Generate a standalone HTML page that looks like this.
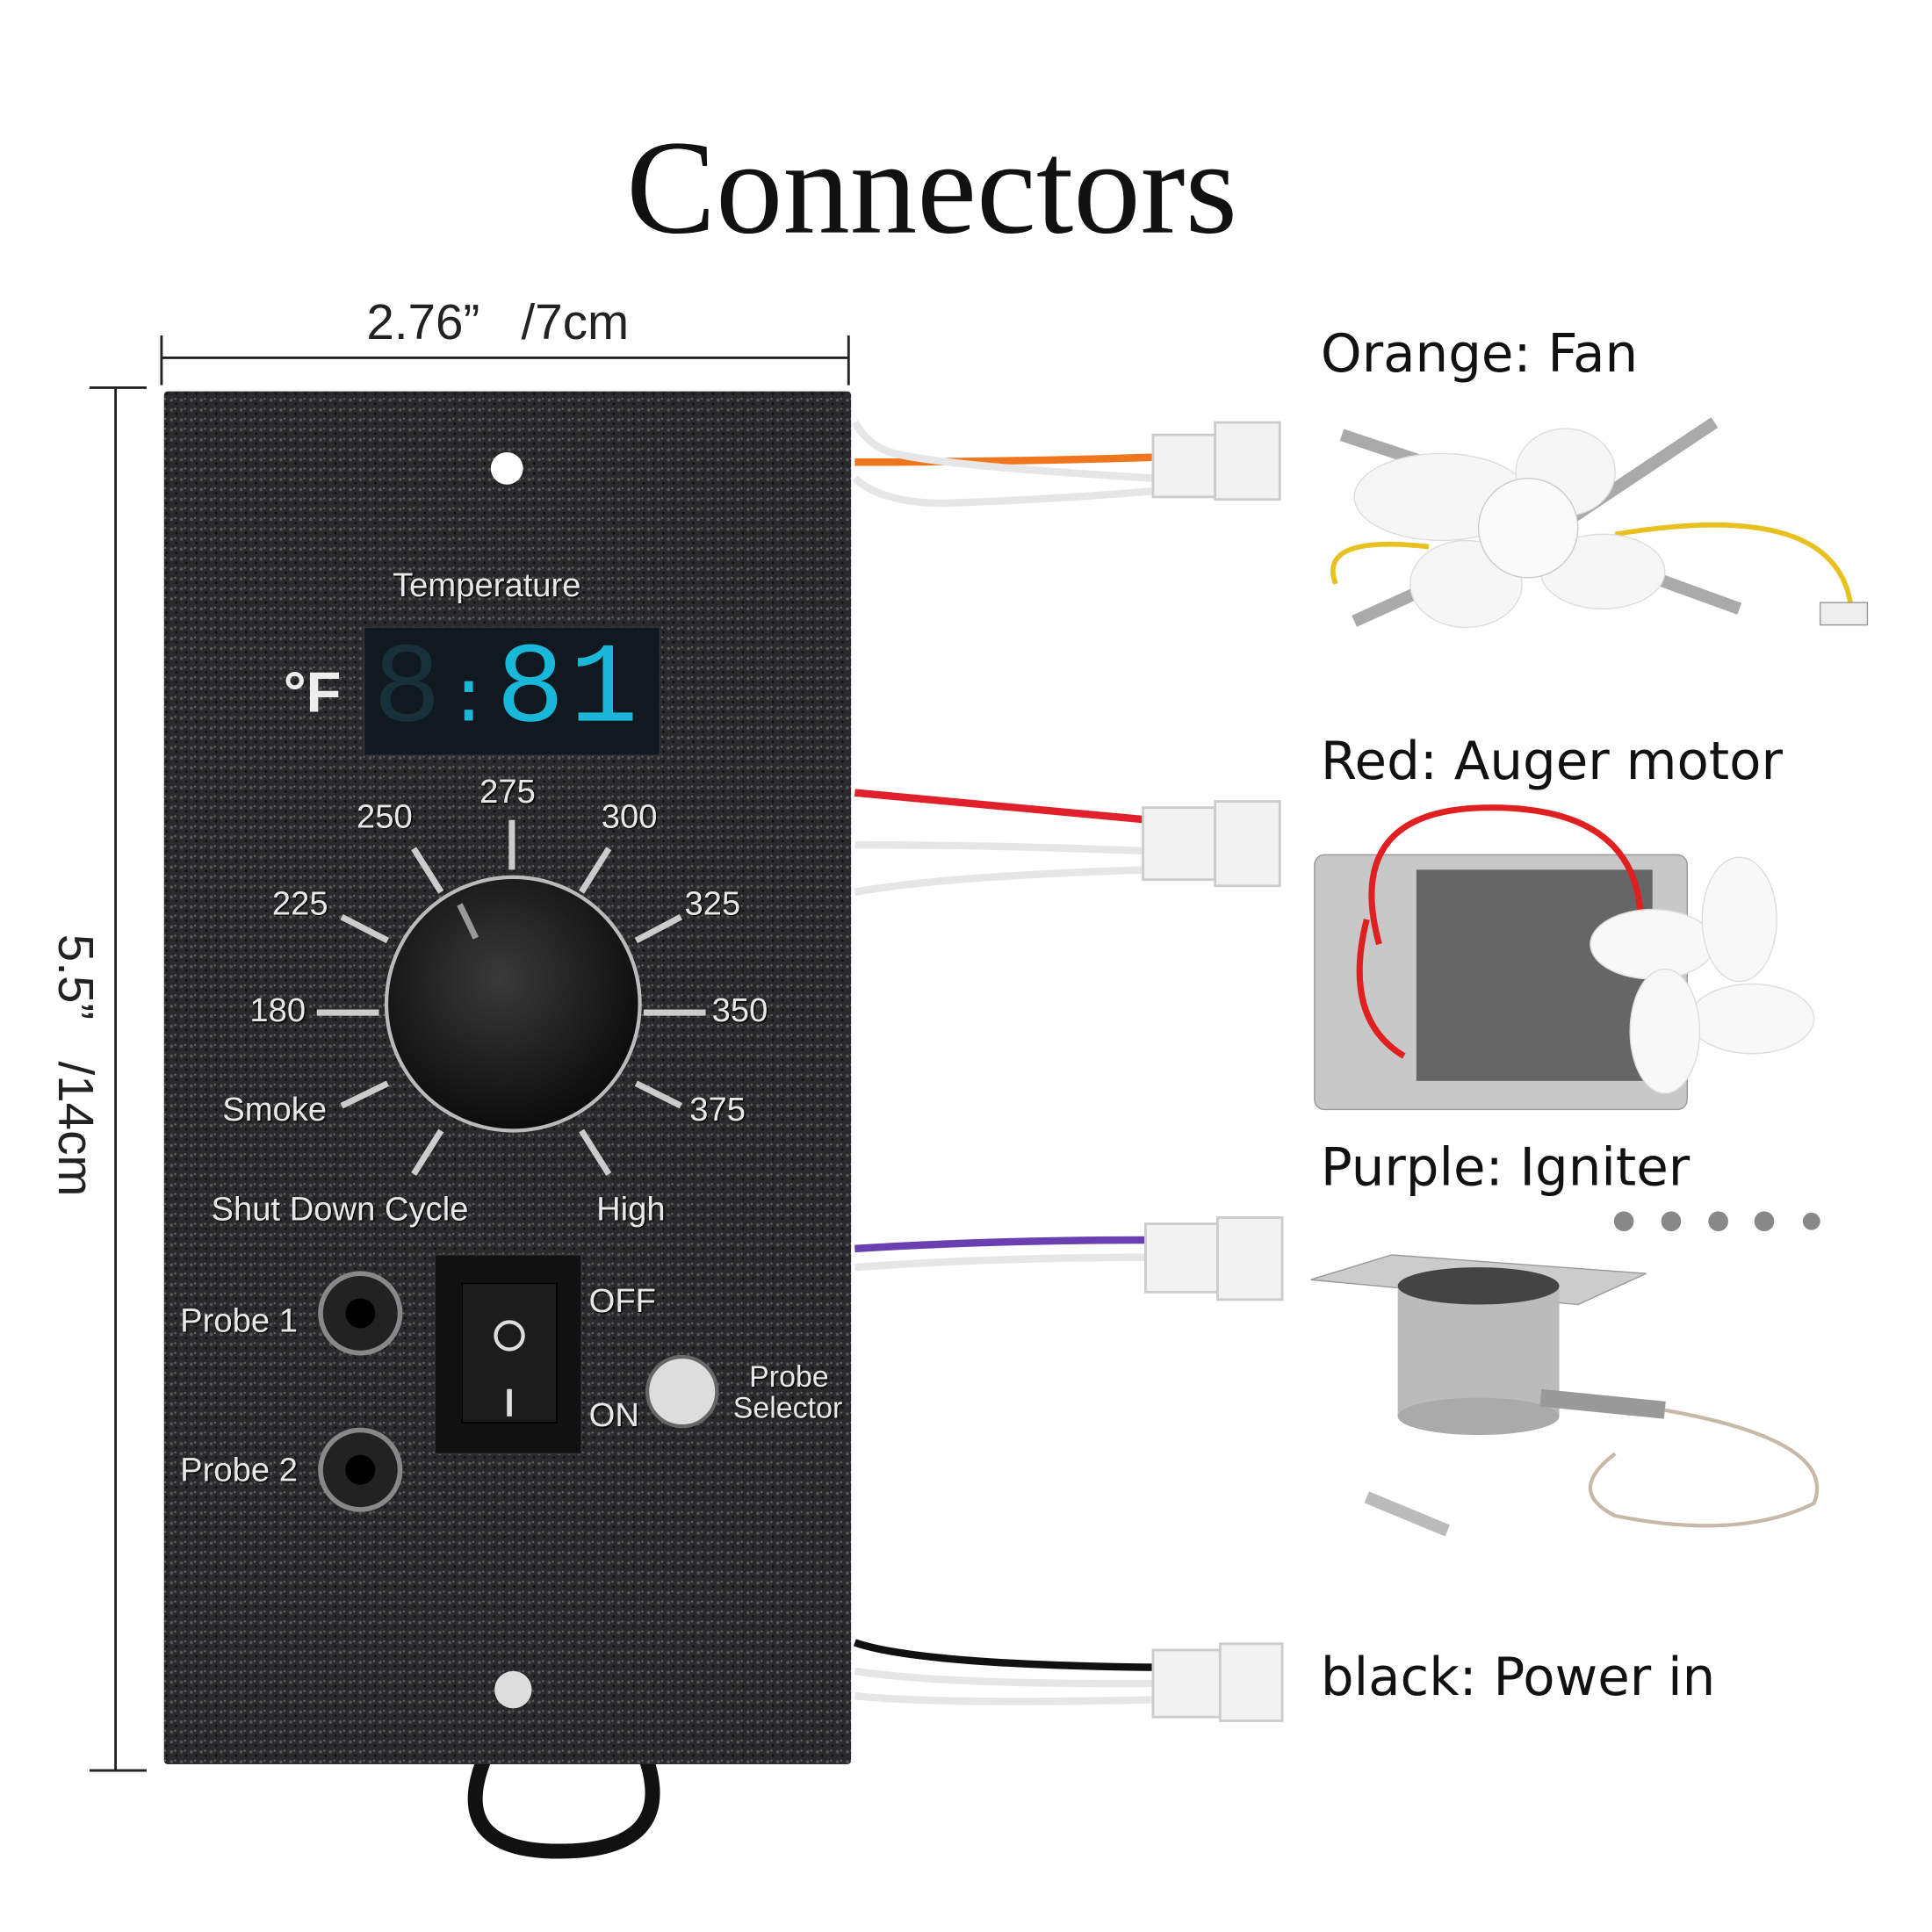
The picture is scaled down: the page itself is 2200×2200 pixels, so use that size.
<!DOCTYPE html>
<html><head><meta charset="utf-8"><style>
html,body{margin:0;padding:0;background:#fff;}
#wrap{width:1555px;height:1555px;position:relative;transform:scale(1.41479);transform-origin:0 0;overflow:hidden;font-family:"Liberation Sans",sans-serif;}
.a{position:absolute;}
.lbl{position:absolute;color:#e8e8e8;font-size:27px;font-family:"Liberation Sans",sans-serif;text-shadow:1px 1px 1px #000;}
.rt{position:absolute;font-family:"DejaVu Sans",sans-serif;font-size:42px;color:#111;}
</style></head><body><div id="wrap">
<div class="a" style="left:0;top:90px;width:1500px;text-align:center;font-family:'Liberation Serif',serif;font-size:108px;color:#111;">Connectors</div>

<svg class="a" style="left:0;top:0" width="1555" height="1555">
<defs>
<pattern id="tx" width="8" height="8" patternUnits="userSpaceOnUse">
<rect width="8" height="8" fill="#2a2a2c"/><circle cx="2" cy="2" r="1.3" fill="#555"/><circle cx="6" cy="5" r="1" fill="#111"/><circle cx="5" cy="1" r="0.8" fill="#666"/>
</pattern>
<radialGradient id="kn" cx="0.45" cy="0.4" r="0.6"><stop offset="0" stop-color="#3a3a3a"/><stop offset="1" stop-color="#0c0c0c"/></radialGradient>
</defs>
<line x1="130" y1="288" x2="683" y2="288" stroke="#222" stroke-width="2"/>
<line x1="130" y1="270" x2="130" y2="310" stroke="#222" stroke-width="2"/>
<line x1="683" y1="270" x2="683" y2="310" stroke="#222" stroke-width="2"/>
<line x1="93" y1="312" x2="93" y2="1425" stroke="#222" stroke-width="2"/>
<line x1="72" y1="312" x2="118" y2="312" stroke="#222" stroke-width="2"/>
<line x1="72" y1="1425" x2="118" y2="1425" stroke="#222" stroke-width="2"/>
<path d="M390 1415 Q360 1490 450 1490 Q545 1490 520 1415" fill="none" stroke="#111" stroke-width="12"/>
<rect x="132" y="315" width="553" height="1105" fill="url(#tx)" rx="3"/>
<circle cx="408" cy="377" r="13" fill="#fff"/>
<circle cx="413" cy="1360" r="15" fill="#ddd"/>
<rect x="293" y="505" width="238" height="103" fill="#101820" stroke="#333"/>
<g stroke="#ccc" stroke-width="5">
<line x1="412" y1="660" x2="412" y2="700"/>
<line x1="333" y1="683" x2="355" y2="718"/>
<line x1="490" y1="683" x2="468" y2="718"/>
<line x1="275" y1="738" x2="312" y2="757"/>
<line x1="548" y1="738" x2="512" y2="757"/>
<line x1="255" y1="815" x2="305" y2="815"/>
<line x1="518" y1="815" x2="568" y2="815"/>
<line x1="275" y1="890" x2="312" y2="872"/>
<line x1="548" y1="890" x2="512" y2="872"/>
<line x1="333" y1="945" x2="355" y2="910"/>
<line x1="490" y1="945" x2="468" y2="910"/>
</g>
<circle cx="413" cy="808" r="102" fill="url(#kn)" stroke="#bbb" stroke-width="3"/>
<line x1="383" y1="755" x2="370" y2="728" stroke="#999" stroke-width="5"/>
<circle cx="290" cy="1057" r="32" fill="#222" stroke="#888" stroke-width="4"/><circle cx="290" cy="1057" r="12" fill="#000"/>
<circle cx="290" cy="1183" r="32" fill="#222" stroke="#888" stroke-width="4"/><circle cx="290" cy="1183" r="12" fill="#000"/>
<rect x="350" y="1010" width="118" height="160" fill="#111" stroke="#333"/>
<rect x="372" y="1033" width="76" height="112" fill="#1c1c1c" stroke="#000"/>
<circle cx="410" cy="1075" r="11" fill="none" stroke="#ddd" stroke-width="3"/>
<line x1="410" y1="1118" x2="410" y2="1140" stroke="#ddd" stroke-width="4"/>
<circle cx="549" cy="1120" r="28" fill="#ddd" stroke="#666" stroke-width="3"/>
<g fill="none" stroke-width="6">
<path d="M688 372 C720 372 800 372 930 368" stroke="#f0761e"/>
<path d="M688 340 Q700 360 720 365 Q760 375 930 385" stroke="#e6e6e6"/>
<path d="M688 385 Q710 405 760 405 Q850 402 930 395" stroke="#e6e6e6"/>
<path d="M688 638 Q800 648 925 660" stroke="#e0202a"/>
<path d="M688 680 Q800 680 925 685" stroke="#e6e6e6"/>
<path d="M688 718 Q760 705 925 700" stroke="#e6e6e6"/>
<path d="M688 1005 Q800 998 925 998" stroke="#6a3fb0"/>
<path d="M688 1020 Q800 1012 925 1012" stroke="#e6e6e6"/>
<path d="M688 1322 Q740 1340 930 1342" stroke="#111"/>
<path d="M688 1345 Q760 1356 930 1355" stroke="#e6e6e6"/>
<path d="M688 1365 Q760 1372 930 1368" stroke="#e6e6e6"/>
</g>
<g fill="#f2f2f2" stroke="#ccc" stroke-width="2">
<rect x="928" y="350" width="50" height="50"/><rect x="978" y="340" width="52" height="62"/>
<rect x="920" y="650" width="58" height="58"/><rect x="978" y="645" width="52" height="68"/>
<rect x="922" y="985" width="58" height="55"/><rect x="980" y="980" width="52" height="66"/>
<rect x="928" y="1328" width="54" height="54"/><rect x="982" y="1323" width="50" height="62"/>
</g>
<g>
<path d="M1080 350 L1230 400 M1380 340 L1260 420 M1090 500 L1200 450 M1400 490 L1290 450" stroke="#aaa" stroke-width="10"/>
<path d="M1075 470 Q1060 430 1150 440 M1300 430 Q1480 400 1490 490" stroke="#e8c020" stroke-width="4" fill="none"/>
<ellipse cx="1160" cy="400" rx="70" ry="35" fill="#f6f6f6" stroke="#ddd"/>
<ellipse cx="1260" cy="380" rx="40" ry="35" fill="#f6f6f6" stroke="#ddd"/>
<ellipse cx="1290" cy="460" rx="50" ry="30" fill="#f6f6f6" stroke="#ddd"/>
<ellipse cx="1180" cy="470" rx="45" ry="35" fill="#f6f6f6" stroke="#ddd"/>
<circle cx="1230" cy="425" r="40" fill="#fafafa" stroke="#ccc"/>
<rect x="1465" y="485" width="38" height="18" fill="#eee" stroke="#999"/>
</g>
<g>
<rect x="1058" y="688" width="300" height="205" fill="#c8c8c8" stroke="#999" rx="8"/>
<rect x="1140" y="700" width="190" height="170" fill="#666"/>
<path d="M1110 760 Q1080 650 1200 650 Q1330 650 1320 760 M1130 850 Q1080 820 1100 740" stroke="#e02020" stroke-width="5" fill="none"/>
<ellipse cx="1330" cy="760" rx="50" ry="28" fill="#f8f8f8" stroke="#ddd"/>
<ellipse cx="1400" cy="740" rx="30" ry="50" fill="#f8f8f8" stroke="#ddd"/>
<ellipse cx="1410" cy="820" rx="50" ry="28" fill="#f8f8f8" stroke="#ddd"/>
<ellipse cx="1340" cy="830" rx="28" ry="50" fill="#f8f8f8" stroke="#ddd"/>
</g>
<g>
<path d="M1055 1030 L1120 1010 L1325 1025 L1270 1050 Z" fill="#ccc" stroke="#999"/>
<rect x="1125" y="1035" width="130" height="105" fill="#bbb"/>
<ellipse cx="1190" cy="1140" rx="65" ry="15" fill="#aaa"/>
<ellipse cx="1190" cy="1035" rx="65" ry="15" fill="#444"/>
<path d="M1240 1125 L1340 1135" stroke="#999" stroke-width="14"/>
<path d="M1340 1135 Q1480 1160 1460 1210 Q1400 1240 1300 1220 Q1260 1200 1300 1170" stroke="#c8b8a8" stroke-width="3" fill="none"/>
<path d="M1100 1205 L1165 1232" stroke="#bbb" stroke-width="10"/>
<g fill="#888"><circle cx="1307" cy="983" r="8"/><circle cx="1345" cy="983" r="8"/><circle cx="1383" cy="983" r="8"/><circle cx="1420" cy="983" r="8"/><circle cx="1458" cy="983" r="7"/></g>
</g>
</svg>

<div class="a" style="left:295px;top:238px;font-size:40px;color:#222;">2.76”&nbsp;&nbsp;&nbsp;/7cm</div>
<div class="a" style="left:-90px;top:835px;width:300px;text-align:center;transform:rotate(90deg);font-size:40px;color:#222;">5.5”&nbsp;&nbsp;&nbsp;/14cm</div>

<div class="lbl" style="left:316px;top:456px;font-size:27px;">Temperature</div>
<div class="a" style="left:228px;top:530px;font-size:46px;color:#eee;font-weight:bold;">°F</div>
<div class="a" style="left:300px;top:506px;font-family:'Liberation Mono',monospace;font-size:92px;color:#1ab8d8;letter-spacing:4px;line-height:100px;"><span style="color:#17303a">8</span><span style="font-size:60px">:</span>81</div>

<div class="lbl" style="left:386px;top:622px;">275</div>
<div class="lbl" style="left:287px;top:642px;">250</div>
<div class="lbl" style="left:484px;top:642px;">300</div>
<div class="lbl" style="left:219px;top:712px;">225</div>
<div class="lbl" style="left:551px;top:712px;">325</div>
<div class="lbl" style="left:201px;top:798px;">180</div>
<div class="lbl" style="left:573px;top:798px;">350</div>
<div class="lbl" style="left:179px;top:878px;">Smoke</div>
<div class="lbl" style="left:555px;top:878px;">375</div>
<div class="lbl" style="left:170px;top:958px;">Shut Down Cycle</div>
<div class="lbl" style="left:480px;top:958px;">High</div>
<div class="lbl" style="left:145px;top:1048px;">Probe 1</div>
<div class="lbl" style="left:145px;top:1168px;">Probe 2</div>
<div class="lbl" style="left:474px;top:1032px;">OFF</div>
<div class="lbl" style="left:474px;top:1124px;">ON</div>
<div class="lbl" style="left:603px;top:1097px;font-size:24px;line-height:24px;">Probe</div>
<div class="lbl" style="left:590px;top:1122px;font-size:24px;line-height:24px;">Selector</div>

<div class="rt" style="left:1063px;top:260px;">Orange: Fan</div>
<div class="rt" style="left:1063px;top:588px;">Red: Auger motor</div>
<div class="rt" style="left:1063px;top:915px;">Purple: Igniter</div>
<div class="rt" style="left:1063px;top:1325px;">black: Power in</div>
</div></body></html>
